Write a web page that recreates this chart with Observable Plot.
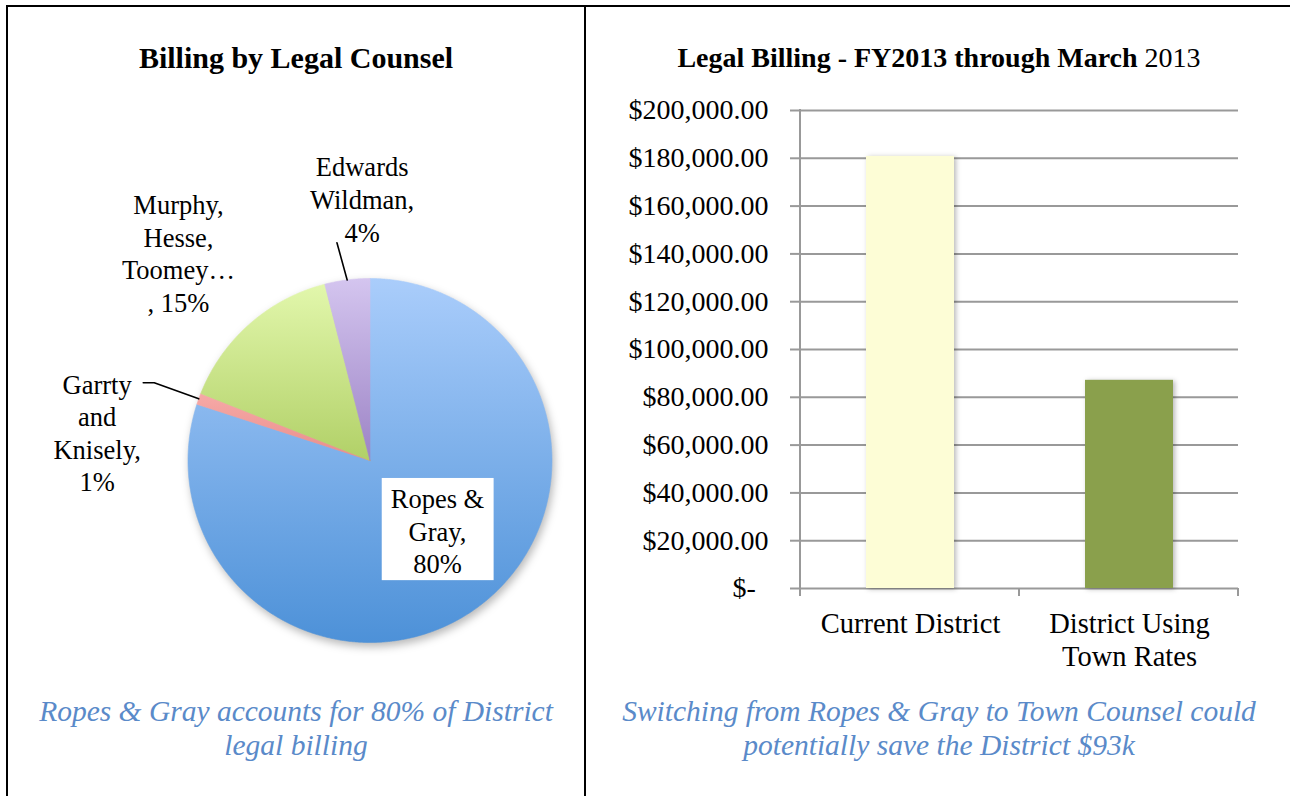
<!DOCTYPE html>
<html>
<head>
<meta charset="utf-8">
<script src="https://cdn.jsdelivr.net/npm/d3@7"></script>
<script src="https://cdn.jsdelivr.net/npm/@observablehq/plot@0.6"></script>
<style>
html, body { margin: 0; padding: 0; background: #fff; }
#page { position: relative; width: 1290px; height: 796px; overflow: hidden; background: #fff; font-family: "Liberation Serif", serif; }
.rule { position: absolute; background: #000; }
.title { position: absolute; text-align: center; font-weight: bold; color: #000; white-space: nowrap; }
.caption { position: absolute; text-align: center; font-style: italic; color: #5A8AC9; font-size: 29.5px; line-height: 34px; white-space: nowrap; }
.chart { position: absolute; }
#bars g[aria-label="y-axis"] line, #bars g[aria-label="y-axis"] path { stroke: #999; stroke-width: 2px; }
#bars g[aria-label="y-axis tick"], #bars g[aria-label="y-axis tick"] path { stroke: #999; stroke-width: 2px; }
#bars g[aria-label="bar"] { filter: drop-shadow(2px 1px 2.5px rgba(0,0,0,0.28)); }
</style>
</head>
<body>
<div id="page">
  <div class="rule" style="left:6px;top:5px;width:1284px;height:2px"></div>
  <div class="rule" style="left:6px;top:5px;width:2px;height:791px"></div>
  <div class="rule" style="left:584px;top:5px;width:2px;height:791px"></div>
  <div class="title" style="left:7px;width:578px;top:41px;font-size:30px">Billing by Legal Counsel</div>
  <div class="title" style="left:586px;width:706px;top:42px;font-size:28px">Legal Billing - FY2013 through March <span style="font-weight:normal">2013</span></div>
  <div id="pie" class="chart" style="left:10px;top:140px;width:570px;height:520px"></div>
  <div id="bars" class="chart" style="left:590px;top:90px;width:690px;height:590px"></div>
  <div class="caption" style="left:7px;width:578px;top:694px">Ropes &amp; Gray accounts for 80% of District<br>legal billing</div>
  <div class="caption" style="left:586px;width:706px;top:694px">Switching from Ropes &amp; Gray to Town Counsel could<br>potentially save the District $93k</div>
</div>
<script>
// ---------- data ----------
const pieNames = ["Ropes & Gray", "Garrty and Knisely", "Murphy, Hesse, Toomey…", "Edwards Wildman"];
const pieShares = [80, 1, 15, 4];
const pieLabels = ["Ropes &\nGray,\n80%", "Garrty\nand\nKnisely,\n1%", "Murphy,\nHesse,\nToomey…\n, 15%", "Edwards\nWildman,\n4%"];
const pieColors = [["#AACDFB", "#4D91D8"], ["#F6A9A7", "#E98D8A"], ["#E2F7AC", "#B1D067"], ["#D4C5EF", "#9C83C5"]];

const barCategories = ["Current District", "District Using Town Rates"];
const barLabels = ["Current District", "District Using\nTown Rates"];
const barValues = [180800, 87100];
const barColors = ["#FDFDD6", "#8AA04C"];
const yTicks = [0, 20000, 40000, 60000, 80000, 100000, 120000, 140000, 160000, 180000, 200000];

// ---------- pie ----------
const R = 182, PW = 570, PH = 520, CX = 359.5, CY = 320;
const arcs = d3.pie().sort(null).value(d => d)(pieShares);
const slicePts = arcs.map((a, i) => {
  const pts = [{x: 0, y: 0}];
  const n = Math.max(2, Math.ceil((a.endAngle - a.startAngle) / 0.005));
  for (let k = 0; k <= n; k++) {
    const t = a.startAngle + (a.endAngle - a.startAngle) * k / n;
    pts.push({x: Math.sin(t), y: Math.cos(t)});
  }
  pts.push({x: 0, y: 0});
  return pts;
});
const mid = a => (a.startAngle + a.endAngle) / 2;
// leader lines (Garrty and Edwards)
const leaderPts = [];
{
  const a = arcs[1], m = mid(a);
  leaderPts.push({name: pieNames[1], x: Math.sin(m), y: Math.cos(m)});
  leaderPts.push({name: pieNames[1], x: 1.26 * Math.sin(m), y: 1.26 * Math.cos(m)});
  leaderPts.push({name: pieNames[1], x: 1.26 * Math.sin(m) - 11 / R, y: 1.26 * Math.cos(m)});
  const b = arcs[3], mb = mid(b);
  leaderPts.push({name: pieNames[3], x: Math.sin(mb), y: Math.cos(mb)});
  leaderPts.push({name: pieNames[3], x: 1.21 * Math.sin(mb - 0.025), y: 1.21 * Math.cos(mb - 0.025)});
}
const labelLayout = [
  {k: 0.5, dx: 14, dy: -4},
  {k: 1.5, dx: -16, dy: 64},
  {k: 1.5, dx: -11, dy: -3},
  {k: 1.44, dx: 25, dy: -2}
];
const labelData = arcs.map((a, i) => {
  const m = mid(a), L = labelLayout[i];
  return {name: pieNames[i], label: pieLabels[i], x: L.k * Math.sin(m) + L.dx / R, y: L.k * Math.cos(m) - L.dy / R};
});

const pie = Plot.plot({
  width: PW, height: PH, margin: 0,
  x: {domain: [-CX / R, (PW - CX) / R], axis: null},
  y: {domain: [-(PH - CY) / R, CY / R], axis: null},
  style: {fontFamily: "Liberation Serif", fontSize: "26px", background: "transparent", overflow: "visible", maxWidth: "none"},
  marks: [
    ...arcs.map((a, i) => Plot.line(slicePts[i], {x: "x", y: "y", fill: `url(#sg${i})`, stroke: `url(#sg${i})`, strokeWidth: 0.6})),
    Plot.line(leaderPts, {x: "x", y: "y", z: "name", stroke: "#000", strokeWidth: 1.6}),
    Plot.text(labelData, {x: "x", y: "y", text: "label", fill: "#000", fontSize: 26.5, lineHeight: 1.23, textAnchor: "middle", lineAnchor: "middle"})
  ]
});
document.getElementById("pie").appendChild(pie);
{
  const svg = d3.select(pie);
  const defs = svg.insert("defs", ":first-child");
  pieColors.forEach((c, i) => {
    const g = defs.append("linearGradient").attr("id", `sg${i}`).attr("x1", 0).attr("y1", 0).attr("x2", 0).attr("y2", 1);
    g.append("stop").attr("offset", "0%").attr("stop-color", c[0]);
    g.append("stop").attr("offset", "100%").attr("stop-color", c[1]);
  });
  // wrap slice groups with a soft shadow
  const sliceGroups = svg.selectAll('g[aria-label="line"]').nodes().slice(0, arcs.length);
  if (sliceGroups.length) {
    const wrap = svg.insert("g", () => sliceGroups[0]).style("filter", "drop-shadow(2px 4px 4px rgba(0,0,0,0.28))");
    sliceGroups.forEach(n => wrap.node().appendChild(n));
  }
  // white box behind the inside label
  const textNode = svg.select('g[aria-label="text"] text').node();
  if (textNode) {
    const bb = textNode.getBBox();
    const rect = d3.select(textNode.parentNode).insert("rect", ":first-child")
      .attr("x", bb.x - 9).attr("y", bb.y - 6).attr("width", bb.width + 18).attr("height", bb.height + 7)
      .attr("fill", "#fff");
    const tr = textNode.getAttribute("transform");
    if (tr) rect.attr("transform", tr);
  }
}

// ---------- bars ----------
const barData = barCategories.map((c, i) => ({cat: c, label: barLabels[i], value: barValues[i]}));
const fmt = d3.format(",.2f");
function axisBits(index, scales, values, dimensions) {
  const {width, marginLeft, marginRight} = dimensions;
  const y0 = scales.y(yTicks[0]), yTop = scales.y(yTicks[yTicks.length - 1]);
  const left = marginLeft, right = width - marginRight, n = barCategories.length;
  const g = d3.create("svg:g").attr("stroke", "#999").attr("stroke-width", 2);
  g.append("line").attr("x1", left).attr("x2", left).attr("y1", yTop - 1).attr("y2", y0);
  for (let i = 0; i <= n; i++) {
    const x = left + (right - left) * i / n;
    g.append("line").attr("x1", x).attr("x2", x).attr("y1", y0).attr("y2", y0 + 8);
  }
  return g.node();
}
const bars = Plot.plot({
  width: 690, height: 590,
  marginLeft: 210, marginRight: 42, marginTop: 20, marginBottom: 92,
  style: {fontFamily: "Liberation Serif", fontSize: "28px", background: "transparent", overflow: "visible", maxWidth: "none", color: "#000"},
  x: {domain: barCategories, paddingInner: 0.6, paddingOuter: 0.3, axis: null},
  y: {domain: [0, 200000], ticks: yTicks, tickSize: 10, tickPadding: 22, label: null,
      tickFormat: v => v === 0 ? "$-\u00a0\u2009" : "$" + fmt(v)},
  color: {domain: barCategories, range: barColors},
  marks: [
    Plot.ruleY(yTicks, {stroke: "#999", strokeWidth: 2}),
    Plot.barY(barData, {x: "cat", y: "value", fill: "cat"}),
    axisBits,
    Plot.text(barData, {x: "cat", y: 0, text: "label", lineAnchor: "top", dy: 22, fontSize: 28.5, lineHeight: 1.13, fill: "#000"})
  ]
});
document.getElementById("bars").appendChild(bars);
</script>
</body>
</html>
